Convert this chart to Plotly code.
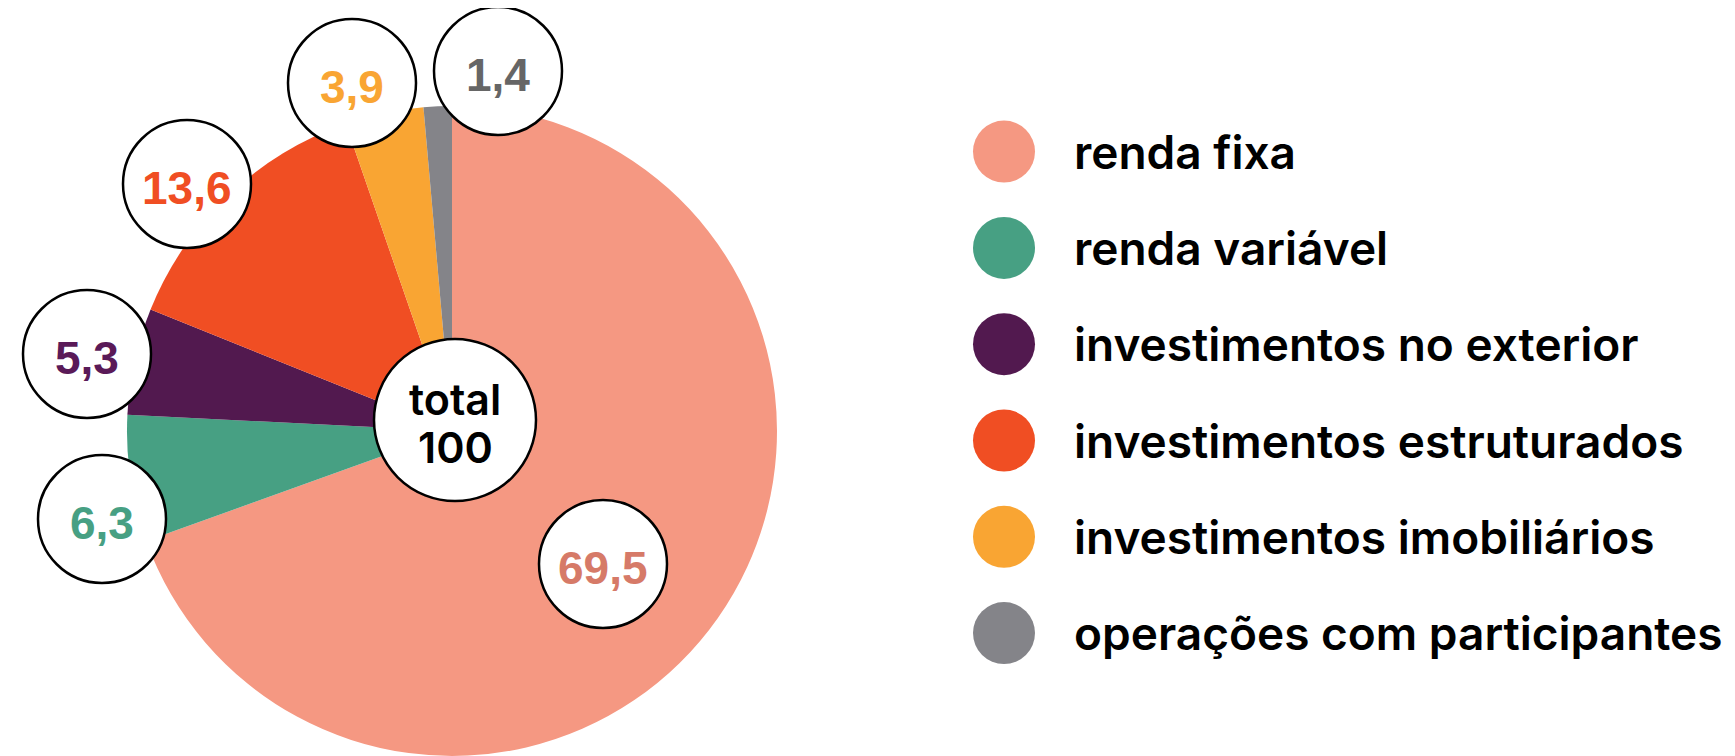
import plotly.graph_objects as go

# ---- data ----
categories = [
    "renda fixa",
    "renda variável",
    "investimentos no exterior",
    "investimentos estruturados",
    "investimentos imobiliários",
    "operações com participantes",
]
values = [69.5, 6.3, 5.3, 13.6, 3.9, 1.4]
total_label = "total"
total_value = 100

# ---- styles ----
slice_colors = ["#F59882", "#47A083", "#52194F", "#F04E23", "#F9A533", "#848489"]
label_colors = ["#D67A68", "#47A083", "#5A1A58", "#F04E23", "#F9A533", "#666666"]

W, H = 1735, 756
OFF = 8  # page body margin compensation

# bubble label positions (page pixel space), one per category
bubble_pos = [(603, 564), (102, 519), (87, 354), (187, 184), (352, 83), (498, 71)]
bubble_r = 64
total_pos = (455, 420)
total_r = 81

legend_x_marker = 1004
legend_x_text = 1072
legend_y0 = 151.6
legend_dy = 96.3

title_font = "Inter"
num_font = "Liberation Sans"

# pie geometry in page pixels
pcx, pcy, pr = 452, 431, 325

def fmt(v):
    return f"{v:.1f}".replace(".", ",")

def px(x):
    return x - OFF

fig = go.Figure()

cxp, cyp = px(pcx), px(pcy)
fig.add_trace(go.Pie(
    labels=categories,
    values=values,
    sort=False,
    direction="clockwise",
    rotation=0,
    marker=dict(colors=slice_colors, line=dict(width=0)),
    textinfo="none",
    showlegend=False,
    domain=dict(x=[(cxp - pr) / W, (cxp + pr) / W], y=[(H - cyp - pr) / H, (H - cyp + pr) / H]),
    hovertemplate="%{label}: %{value}<extra></extra>",
))

# legend markers on hidden pixel axes
legend_y = [px(legend_y0 + legend_dy * i) for i in range(len(categories))]
fig.add_trace(go.Scatter(
    x=[px(legend_x_marker)] * len(categories),
    y=legend_y,
    mode="markers",
    marker=dict(size=62, color=slice_colors, line=dict(width=0)),
    showlegend=False,
    hovertext=categories,
    hoverinfo="text",
))

shapes = []
annotations = []
for cat, v, (bx, by), tc in zip(categories, values, bubble_pos, label_colors):
    bx, by = px(bx), px(by)
    shapes.append(dict(type="circle", xref="x", yref="y", layer="above",
                       x0=bx - bubble_r, x1=bx + bubble_r, y0=by - bubble_r, y1=by + bubble_r,
                       fillcolor="white", line=dict(color="black", width=2.5)))
    annotations.append(dict(x=bx, y=by, xref="x", yref="y", text=fmt(v), showarrow=False,
                            xanchor="center", yanchor="middle", yshift=-4,
                            font=dict(family=num_font, size=46, color=tc, weight="bold")))

tx, ty = px(total_pos[0]), px(total_pos[1])
shapes.append(dict(type="circle", xref="x", yref="y", layer="above",
                   x0=tx - total_r, x1=tx + total_r, y0=ty - total_r, y1=ty + total_r,
                   fillcolor="white", line=dict(color="black", width=2.5)))
annotations.append(dict(x=tx, y=ty - 21, xref="x", yref="y", text=total_label, showarrow=False,
                        xanchor="center", yanchor="middle",
                        font=dict(family=title_font, size=43, color="black", weight=600)))
annotations.append(dict(x=tx, y=ty + 27, xref="x", yref="y", text=str(total_value), showarrow=False,
                        xanchor="center", yanchor="middle",
                        font=dict(family=title_font, size=43, color="black", weight=600)))

for cat, y in zip(categories, legend_y):
    annotations.append(dict(x=px(legend_x_text), y=y, xref="x", yref="y", text=cat, showarrow=False,
                            xanchor="left", yanchor="middle",
                            font=dict(family=title_font, size=46, color="black", weight=600)))

fig.update_layout(
    width=W, height=H,
    margin=dict(l=0, r=0, t=0, b=0),
    paper_bgcolor="white", plot_bgcolor="rgba(0,0,0,0)",
    xaxis=dict(range=[0, W], visible=False, fixedrange=True),
    yaxis=dict(range=[H, 0], visible=False, fixedrange=True),
    shapes=shapes,
    annotations=annotations,
    showlegend=False,
)

fig.write_html("out.html")
